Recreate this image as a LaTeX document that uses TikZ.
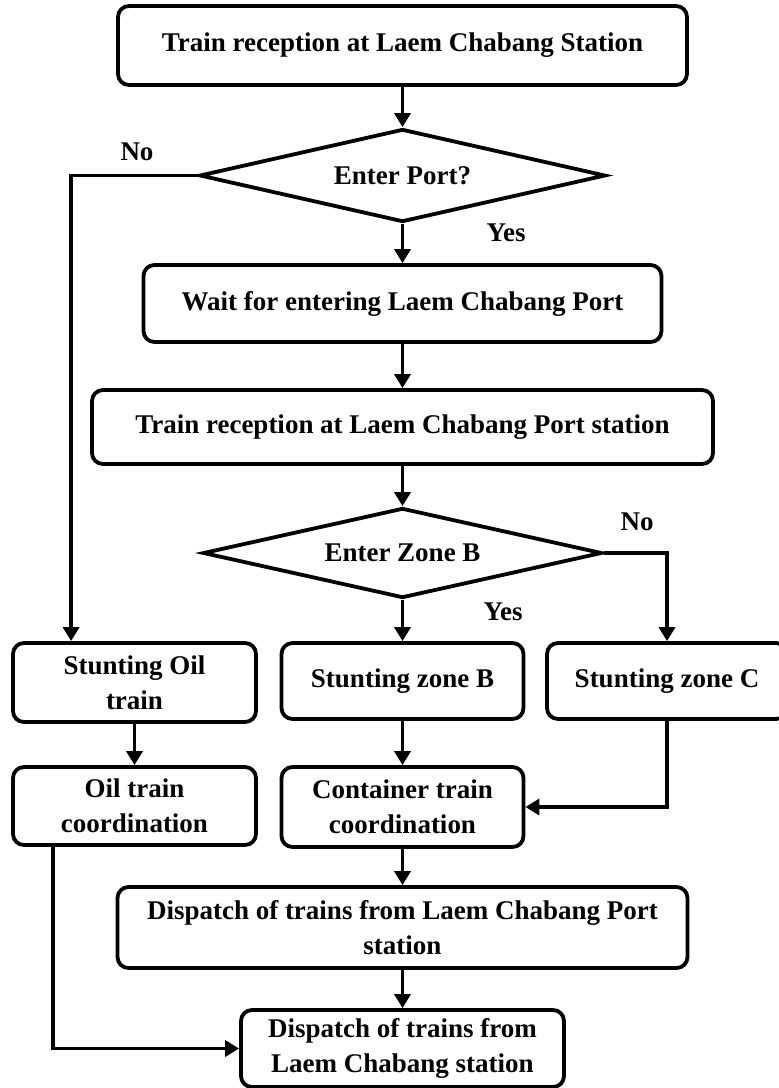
\documentclass[tikz,border=0pt]{standalone}
\usepackage{fontspec}
\setmainfont{Liberation Serif}
\usetikzlibrary{positioning,arrows.meta,shapes.geometric}

\begin{document}
\begin{tikzpicture}[
    x=1pt,y=-1pt,
    every node/.style={font=\fontsize{27}{35}\selectfont\bfseries},
    box/.style={rectangle,draw,rounded corners=11pt,line width=3.8pt,align=center,inner sep=2pt},
    decision/.style={diamond,draw,line width=3.8pt,inner sep=0pt,aspect=4.4},
    arrow/.style={line width=3.8pt,-{Triangle[length=14pt,width=16pt]}},
    answer/.style={inner sep=0pt}
]

\useasboundingbox (0,0) rectangle (779,1088);
\clip (0,0) rectangle (779,1088);

% Main column
\node[box,minimum width=569pt,minimum height=79pt] (start) at (402.5,45.5) {Train reception at Laem Chabang Station};
\node[decision,minimum width=406pt,minimum height=93pt] (port) at (402.5,175.5) {Enter Port?};
\node[box,minimum width=518pt,minimum height=77pt] (wait) at (402.5,303.5) {Wait for entering Laem Chabang Port};
\node[box,minimum width=621pt,minimum height=74pt] (recv) at (402.5,427) {Train reception at Laem Chabang Port station};
\node[decision,minimum width=399pt,minimum height=90pt] (zone) at (402.5,553) {Enter Zone B};

% Stunting row
\node[box,minimum width=243pt,minimum height=79pt] (oil) at (134.5,682.5) {Stunting Oil\\train};
\node[box,minimum width=242pt,minimum height=76pt] (zoneB) at (402.5,681) {Stunting zone B};
\node[box,minimum width=240pt,minimum height=76pt] (zoneC) at (667,681) {Stunting zone C};

% Coordination row
\node[box,minimum width=243pt,minimum height=78pt] (oilco) at (134.5,806) {Oil train\\coordination};
\node[box,minimum width=242pt,minimum height=80pt] (cont) at (402.5,807) {Container train\\coordination};

% Dispatch
\node[box,minimum width=570pt,minimum height=81pt] (dport) at (402.5,927.5) {Dispatch of trains from Laem Chabang Port\\station};
\node[box,minimum width=323pt,minimum height=77pt] (dlcb) at (402.5,1048.5) {Dispatch of trains from\\Laem Chabang station};

% Yes / No labels
\node[answer] (no1) at (137,152) {No};
\node[answer] (yes1) at (506,233) {Yes};
\node[answer] (no2) at (637,522) {No};
\node[answer] (yes2) at (503,612) {Yes};

% Connections
\draw[arrow] (start) -- (port);
\draw[arrow] (port.west) -| ([xshift=60pt]oil.north west);
\draw[arrow] (port) -- (wait);
\draw[arrow] (wait) -- (recv);
\draw[arrow] (recv) -- (zone);
\draw[arrow] (zone) -- (zoneB);
\draw[arrow] (zone.east) -| (zoneC.north);
\draw[arrow] (oil) -- (oilco);
\draw[arrow] (zoneB) -- (cont);
\draw[arrow] (zoneC.south) |- (cont.east);
\draw[arrow] (cont) -- (dport);
\draw[arrow] (dport) -- (dlcb);
\draw[arrow] ([xshift=42pt]oilco.south west) |- (dlcb.west);

\end{tikzpicture}
\end{document}
